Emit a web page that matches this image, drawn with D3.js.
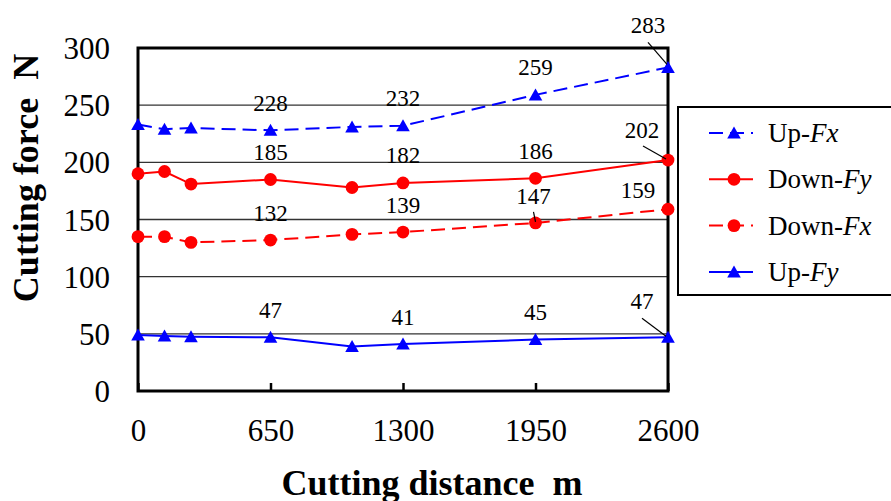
<!DOCTYPE html>
<meta charset="utf-8">
<script src="https://d3js.org/d3.v7.min.js"></script>
<style>
  body { margin: 0; background: #fff; }
  text { font-family: "Liberation Serif", "Times New Roman", serif; }
</style>
<div id="chart"></div>
<script>

  // data
  var distance = [0, 130, 260, 650, 1050, 1300, 1950, 2600];
  var upFx   = [233, 229, 230, 228, 231, 232, 259, 283];
  var downFy = [190, 192, 181, 185, 178, 182, 186, 202];
  var downFx = [135, 135, 130, 132, 137, 139, 147, 159];
  var upFy   = [49, 48, 47.5, 47, 39, 41, 45, 47];
  var labelled = [3, 5, 6, 7];          // points carrying a value label
  var xTicks = [0, 650, 1300, 1950, 2600];
  var yTicks = [0, 50, 100, 150, 200, 250, 300];

  // series table built from the arrays above
  var series = [
    {name: "Up-", sub: "Fx",   values: upFx,   color: "#0000ff", dash: "14,7", marker: "tri"},
    {name: "Down-", sub: "Fy", values: downFy, color: "#ff0000", dash: null,   marker: "dot"},
    {name: "Down-", sub: "Fx", values: downFx, color: "#ff0000", dash: "14,7", marker: "dot"},
    {name: "Up-", sub: "Fy",   values: upFy,   color: "#0000ff", dash: null,   marker: "tri"}
  ];

  // label offsets (pixels) for the last point of each series;
  // leader = [start offset from label baseline, end offset from the point]
  var lastLabel = [
    {dx: -20, dy: -34, leader: [[0, 9], [-1, -3]]},
    {dx: -26, dy: -22, leader: [[1, 8], [-2, -1]]},
    {dx: -30, dy: -11, leader: null},
    {dx: -26, dy: -28, leader: [[0, 9], [-2, -1]]}
  ];

  var W = 891, H = 501;
  var margin = {top: 48, left: 138},
      width = 530, height = 343;

  var svg = d3.select("#chart").append("svg")
      .attr("width", W).attr("height", H);
  var g = svg.append("g")
      .attr("transform", "translate(" + margin.left + "," + margin.top + ")");

  var x = d3.scaleLinear().domain([0, 2600]).range([0, width]);
  var y = d3.scaleLinear().domain([0, 300]).range([height, 0]);

  var serif = "Liberation Serif";

  // gridlines
  g.selectAll(".grid")
    .data(yTicks.filter(function(d) { return d > 0 && d < 300; }))
    .enter().append("line")
      .attr("x1", 0).attr("x2", width)
      .attr("y1", function(d) { return y(d); })
      .attr("y2", function(d) { return y(d); })
      .attr("stroke", "#333").attr("stroke-width", 1.4);

  // axes
  var xAxis = g.append("g")
      .attr("transform", "translate(0," + height + ")")
      .call(d3.axisBottom(x).tickValues(xTicks).tickFormat(d3.format("d"))
        .tickSizeInner(-8).tickSizeOuter(0).tickPadding(28));
  xAxis.select(".domain").remove();
  xAxis.selectAll("line").attr("stroke", "#000").attr("stroke-width", 2.5);
  xAxis.selectAll("text").attr("font-size", 31).attr("font-family", serif).attr("fill", "#000");

  var yAxis = g.append("g")
      .call(d3.axisLeft(y).tickValues(yTicks).tickSize(0).tickPadding(28));
  yAxis.select(".domain").remove();
  yAxis.selectAll("text").attr("font-size", 31).attr("font-family", serif).attr("fill", "#000")
      .attr("dy", "0.34em");

  // frame
  g.append("rect")
      .attr("x", 0).attr("y", 0).attr("width", width).attr("height", height)
      .attr("fill", "none").attr("stroke", "#000").attr("stroke-width", 3);

  // markers
  function drawMarker(sel, type, color) {
    if (type == "dot") {
      sel.append("circle").attr("r", 6.4).attr("fill", color);
    } else {
      sel.append("path").attr("d", "M0,-6.5L6.8,5.5L-6.8,5.5Z").attr("fill", color);
    }
  }

  var line = d3.line()
      .x(function(d, i) { return x(distance[i]); })
      .y(function(d) { return y(d); });

  series.forEach(function(s) {
    g.append("path")
      .datum(s.values)
      .attr("d", line)
      .attr("fill", "none")
      .attr("stroke", s.color)
      .attr("stroke-width", 2)
      .attr("stroke-dasharray", s.dash);
  });

  series.forEach(function(s) {
    s.values.forEach(function(v, i) {
      var m = g.append("g").attr("transform", "translate(" + x(distance[i]) + "," + y(v) + ")");
      drawMarker(m, s.marker, s.color);
    });
  });

  // value labels
  series.forEach(function(s, k) {
    labelled.forEach(function(i) {
      var px = x(distance[i]), py = y(s.values[i]);
      var off = (i == distance.length - 1) ? lastLabel[k] : {dx: 0, dy: -19.5, leader: null};
      if (k == 2 && i == 6) off = {dx: -2, dy: -19, leader: [[0, 8], [0, -1]]};
      var lx = px + off.dx, ly = py + off.dy;
      g.append("text")
        .attr("x", lx).attr("y", ly)
        .attr("text-anchor", "middle")
        .attr("font-family", serif)
        .attr("font-size", 23)
        .text(Math.round(s.values[i]));
      if (off.leader) {
        g.append("line")
          .attr("x1", lx + off.leader[0][0]).attr("y1", ly + off.leader[0][1])
          .attr("x2", px + off.leader[1][0]).attr("y2", py + off.leader[1][1])
          .attr("stroke", "#000").attr("stroke-width", 1.2);
      }
    });
  });

  // axis titles
  svg.append("text")
      .attr("transform", "translate(37.5,178) rotate(-90)")
      .attr("text-anchor", "middle")
      .attr("font-family", serif)
      .attr("font-size", 36).attr("font-weight", "bold")
      .attr("xml:space", "preserve")
      .text("Cutting force  N");
  svg.append("text")
      .attr("x", 432).attr("y", 495)
      .attr("text-anchor", "middle")
      .attr("font-family", serif)
      .attr("font-size", 36).attr("font-weight", "bold")
      .attr("xml:space", "preserve")
      .text("Cutting distance  m");

  // legend
  var legend = svg.append("g").attr("transform", "translate(678,107)");
  legend.append("rect")
      .attr("width", 260).attr("height", 188)
      .attr("fill", "#fff").attr("stroke", "#000").attr("stroke-width", 2);

  var rows = legend.selectAll(".row")
      .data(series)
      .enter().append("g")
      .attr("transform", function(d, i) { return "translate(0," + (26 + i * 46.3) + ")"; });

  rows.append("line")
      .attr("x1", 31).attr("x2", 75)
      .attr("stroke", function(d) { return d.color; })
      .attr("stroke-width", 2)
      .attr("stroke-dasharray", function(d) { return d.dash; });
  rows.each(function(d) {
    var m = d3.select(this).append("g").attr("transform", "translate(56,0)");
    drawMarker(m, d.marker, d.color);
  });
  var lt = rows.append("text")
      .attr("x", 90).attr("y", 9)
      .attr("font-family", serif)
      .attr("font-size", 27);
  lt.append("tspan").text(function(d) { return d.name; });
  lt.append("tspan").attr("font-style", "italic").text(function(d) { return d.sub; });

</script>
